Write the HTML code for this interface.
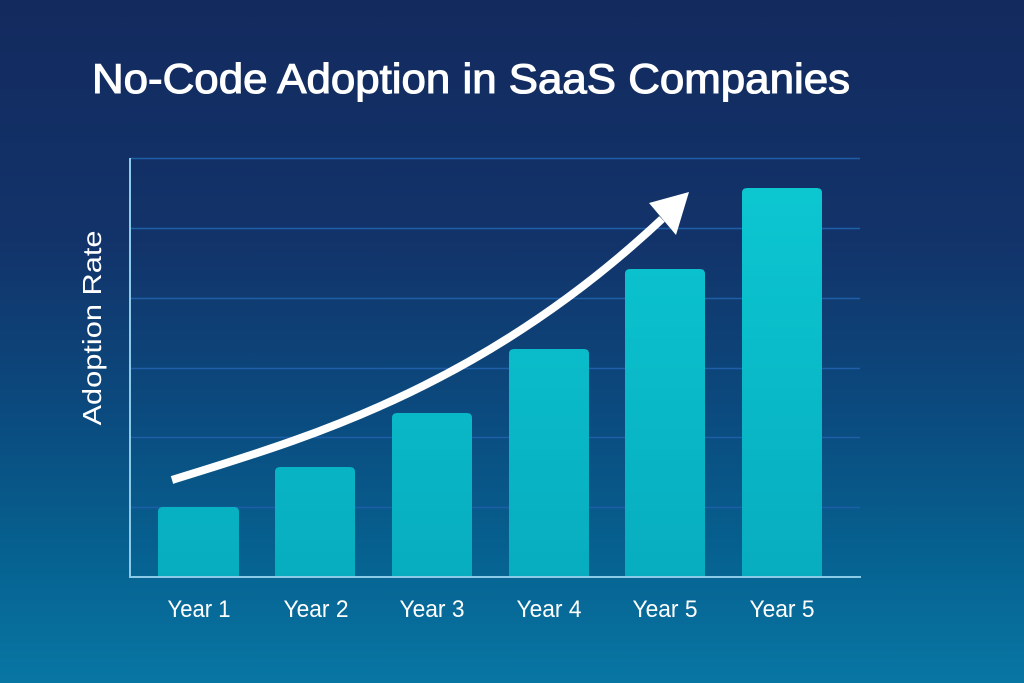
<!DOCTYPE html>
<html><head><meta charset="utf-8"><style>
html,body{margin:0;padding:0;width:1024px;height:683px;overflow:hidden;background:#0f3a70;}
svg{display:block}
</style></head><body>
<svg width="1024" height="683" viewBox="0 0 1024 683" xmlns="http://www.w3.org/2000/svg">
<defs>
<linearGradient id="bg" x1="0" y1="0" x2="0" y2="1">
<stop offset="0" stop-color="#132a5e"/>
<stop offset="0.35" stop-color="#12336a"/>
<stop offset="0.6" stop-color="#0b4a7e"/>
<stop offset="0.8" stop-color="#06608f"/>
<stop offset="1" stop-color="#0876a3"/>
</linearGradient>
<linearGradient id="barg" x1="0" y1="180" x2="0" y2="577" gradientUnits="userSpaceOnUse">
<stop offset="0" stop-color="#0cc7d1"/>
<stop offset="1" stop-color="#07adbf"/>
</linearGradient>
</defs>
<rect x="0" y="0" width="1024" height="683" fill="url(#bg)"/>

<text x="471" y="93" text-anchor="middle" font-family="Liberation Sans, sans-serif" font-size="42" fill="#ffffff" stroke="#ffffff" stroke-width="1.1" textLength="758" lengthAdjust="spacingAndGlyphs">No-Code Adoption in SaaS Companies</text>

<g stroke="#1f5fa8" stroke-width="1.5">
<line x1="130" y1="158.5" x2="860" y2="158.5"/>
<line x1="130" y1="228.5" x2="860" y2="228.5"/>
<line x1="130" y1="298.5" x2="860" y2="298.5"/>
<line x1="130" y1="368.5" x2="860" y2="368.5"/>
<line x1="130" y1="437.5" x2="860" y2="437.5"/>
<line x1="130" y1="507.5" x2="860" y2="507.5"/>
</g>

<g fill="url(#barg)">
<path d="M158,577 V512 Q158,507 163,507 H234 Q239,507 239,512 V577 Z"/>
<path d="M275,577 V472 Q275,467 280,467 H350 Q355,467 355,472 V577 Z"/>
<path d="M392,577 V418 Q392,413 397,413 H467 Q472,413 472,418 V577 Z"/>
<path d="M509,577 V354 Q509,349 514,349 H584 Q589,349 589,354 V577 Z"/>
<path d="M625,577 V274 Q625,269 630,269 H700 Q705,269 705,274 V577 Z"/>
<path d="M742,577 V193 Q742,188 747,188 H817 Q822,188 822,193 V577 Z"/>
</g>

<line x1="130" y1="158" x2="130" y2="577" stroke="#8ccbe8" stroke-width="2"/>
<line x1="129" y1="577" x2="861" y2="577" stroke="#8ccbe8" stroke-width="2"/>

<path d="M172,480 C300,440 480,390 662,219" fill="none" stroke="#ffffff" stroke-width="8"/>
<polygon points="689,192 649,203 676,235" fill="#ffffff"/>

<g font-family="Liberation Sans, sans-serif" font-size="24" fill="#ffffff" text-anchor="middle">
<text x="199" y="617" textLength="63" lengthAdjust="spacingAndGlyphs">Year 1</text>
<text x="316" y="617" textLength="65" lengthAdjust="spacingAndGlyphs">Year 2</text>
<text x="432" y="617" textLength="65" lengthAdjust="spacingAndGlyphs">Year 3</text>
<text x="549" y="617" textLength="65" lengthAdjust="spacingAndGlyphs">Year 4</text>
<text x="665" y="617" textLength="65" lengthAdjust="spacingAndGlyphs">Year 5</text>
<text x="782" y="617" textLength="65" lengthAdjust="spacingAndGlyphs">Year 5</text>
</g>

<text transform="translate(101,328) rotate(-90)" text-anchor="middle" font-family="Liberation Sans, sans-serif" font-size="26" fill="#ffffff" textLength="195" lengthAdjust="spacingAndGlyphs">Adoption Rate</text>
</svg>
</body></html>
